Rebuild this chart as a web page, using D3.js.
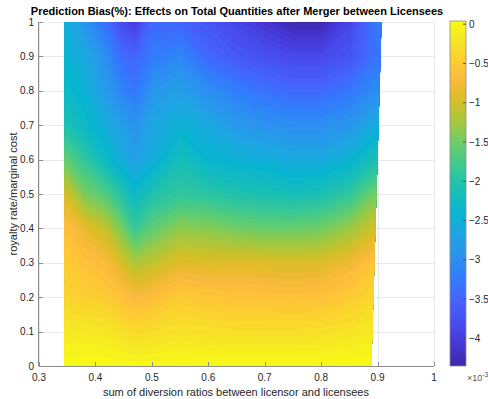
<!DOCTYPE html>
<html>
<head>
<meta charset="utf-8">
<script src="https://cdn.jsdelivr.net/npm/d3@7"></script>
<style>
  body { margin: 0; background: #fff; }
  svg { display: block; font-family: "Liberation Sans", Arial, Helvetica, sans-serif; }
</style>
</head>
<body>
<svg id="chart" width="488" height="399"></svg>
<script>
// grid columns: sum of diversion ratios
const diversionSums = [0.345, 0.38, 0.42, 0.445, 0.47, 0.5, 0.55, 0.6, 0.65, 0.7, 0.75, 0.8, 0.85, 0.91];
// grid rows: royalty rate / marginal cost
const royaltyRates = [0, 0.1, 0.2, 0.3, 0.4, 0.5, 0.6, 0.7, 0.8, 0.9, 1];

// prediction bias (x 1e-3), one row per royalty rate
const bias00 = [0.03, 0.03, 0.03, 0.02, 0.0, 0.01, 0.03, 0.03, 0.03, 0.03, 0.03, 0.03, 0.03, 0.04];
const bias01 = [-0.15, -0.17, -0.2, -0.26, -0.33, -0.3, -0.25, -0.27, -0.28, -0.28, -0.28, -0.27, -0.22, -0.14];
const bias02 = [-0.4, -0.45, -0.5, -0.6, -0.72, -0.65, -0.5, -0.55, -0.6, -0.6, -0.62, -0.6, -0.5, -0.33];
const bias03 = [-0.5, -0.6, -0.72, -0.95, -1.2, -1.1, -0.9, -0.93, -0.9, -0.92, -0.95, -0.92, -0.8, -0.5];
const bias04 = [-0.6, -0.85, -1.1, -1.45, -1.85, -1.6, -1.35, -1.4, -1.5, -1.55, -1.55, -1.5, -1.3, -0.9];
const bias05 = [-0.95, -1.45, -1.7, -2.0, -2.3, -2.05, -1.9, -1.95, -2.05, -2.1, -2.15, -2.1, -1.9, -1.35];
const bias06 = [-1.55, -1.9, -2.3, -2.55, -2.75, -2.55, -2.15, -2.4, -2.45, -2.5, -2.6, -2.6, -2.45, -2.0];
const bias07 = [-2.05, -2.3, -2.55, -2.75, -2.95, -2.65, -2.45, -2.6, -2.85, -2.95, -3.0, -3.0, -2.9, -2.45];
const bias08 = [-2.3, -2.45, -2.85, -3.1, -3.3, -2.9, -2.75, -3.0, -3.2, -3.35, -3.45, -3.45, -3.3, -2.95];
const bias09 = [-2.4, -2.6, -3.0, -3.4, -3.5, -3.25, -3.1, -3.45, -3.65, -3.75, -3.85, -3.85, -3.7, -3.25];
const bias10 = [-2.5, -2.9, -3.4, -3.8, -4.0, -3.45, -3.5, -3.7, -3.9, -4.1, -4.3, -4.3, -3.9, -3.1];
const biasRows = [bias00, bias01, bias02, bias03, bias04, bias05, bias06, bias07, bias08, bias09, bias10];

// outline of the region that holds data
const regionOutline = [[0.345, 0], [0.345, 1], [0.907, 1], [0.889, 0]];

const xTicks = [0.3, 0.4, 0.5, 0.6, 0.7, 0.8, 0.9, 1];
const yTicks = [0, 0.1, 0.2, 0.3, 0.4, 0.5, 0.6, 0.7, 0.8, 0.9, 1];
const colorTicks = [-4, -3.5, -3, -2.5, -2, -1.5, -1, -0.5, 0];
const colorLimits = [-4.35, 0.04];

// parula colormap (index into 64-entry table)
const parulaIdx = [1, 5, 9, 13, 17, 21, 25, 29, 33, 37, 41, 45, 49, 51, 53, 54, 57, 61, 64];
const parulaHex = ["#3e26a8", "#4537d5", "#484df0", "#4563fd", "#327cfc", "#2b91ef", "#20a5e3", "#08b5d0",
  "#19bfb6", "#37c897", "#64cd6f", "#9dc943", "#d1bf27", "#e6bb2d", "#f8ba3d", "#febd3c", "#fccf30", "#f5e924", "#f9fb15"];

const svg = d3.select("#chart");
const axisColor = "#8c8c8c";
const textColor = "#262626";

const x = d3.scaleLinear().domain([0.3, 1]).range([39, 434]);
const y = d3.scaleLinear().domain([0, 1]).range([366, 22]);
const c = d3.scaleLinear().domain(colorLimits).range([366, 21]);

const parula = d3.scaleLinear().domain(parulaIdx).range(parulaHex).interpolate(d3.interpolateRgb);
const color = v => parula(1 + 63 * (v - colorLimits[0]) / (colorLimits[1] - colorLimits[0]));

// grid lines
const grid = svg.append("g").attr("stroke", "#e8e8e8").attr("stroke-width", 1);
grid.selectAll(".gx").data(xTicks).join("line")
  .attr("x1", d => Math.round(x(d)) + 0.5).attr("x2", d => Math.round(x(d)) + 0.5)
  .attr("y1", y(0)).attr("y2", y(1));
grid.selectAll(".gy").data(yTicks).join("line")
  .attr("y1", d => Math.round(y(d)) + 0.5).attr("y2", d => Math.round(y(d)) + 0.5)
  .attr("x1", x(0.3)).attr("x2", x(1));

// filled contours of the bias surface
const nx = diversionSums.length, ny = royaltyRates.length;
const nLevels = 64;
const step = (colorLimits[1] - colorLimits[0]) / nLevels;
const thresholds = d3.range(nLevels).map(i => colorLimits[0] - 0.001 + i * step);
const contours = d3.contours().size([nx, ny]).thresholds(thresholds)(biasRows.flat());

// grid index space -> data value (samples sit at i + 0.5)
const fromIndex = (arr, k) => {
  const u = Math.max(0, Math.min(arr.length - 1, k - 0.5));
  const i = Math.min(Math.floor(u), arr.length - 2);
  return arr[i] + (u - i) * (arr[i + 1] - arr[i]);
};
const gridProjection = d3.geoTransform({
  point(px, py) { this.stream.point(x(fromIndex(diversionSums, px)), y(fromIndex(royaltyRates, py))); }
});
const path = d3.geoPath(gridProjection);

svg.append("clipPath").attr("id", "region")
  .append("path")
  .attr("d", d3.line().x(d => x(d[0])).y(d => y(d[1]))(regionOutline) + "Z");

svg.append("g").attr("clip-path", "url(#region)")
  .selectAll("path").data(contours).join("path")
  .attr("d", path)
  .attr("fill", d => color(d.value + step / 2))
  .attr("stroke", d => color(d.value + step / 2))
  .attr("stroke-width", 0.6);

// axes
const xAxis = svg.append("g");
xAxis.append("line").attr("x1", x(0.3)).attr("x2", x(1)).attr("y1", 366.5).attr("y2", 366.5)
  .attr("stroke", axisColor);
xAxis.selectAll(".tick").data(xTicks).join("line")
  .attr("x1", d => Math.round(x(d)) + 0.5).attr("x2", d => Math.round(x(d)) + 0.5)
  .attr("y1", 366).attr("y2", 362).attr("stroke", axisColor);
xAxis.selectAll("text").data(xTicks).join("text")
  .attr("x", d => x(d)).attr("y", 381)
  .attr("text-anchor", "middle").attr("font-size", 10).attr("fill", textColor)
  .text(d => d3.format("~g")(d));

const yAxis = svg.append("g");
yAxis.append("line").attr("x1", 38.5).attr("x2", 38.5).attr("y1", y(0)).attr("y2", y(1))
  .attr("stroke", axisColor);
yAxis.selectAll(".tick").data(yTicks).join("line")
  .attr("y1", d => Math.round(y(d)) + 0.5).attr("y2", d => Math.round(y(d)) + 0.5)
  .attr("x1", 39).attr("x2", 43).attr("stroke", axisColor);
yAxis.selectAll("text").data(yTicks).join("text")
  .attr("x", 34).attr("y", d => y(d) + 3.5)
  .attr("text-anchor", "end").attr("font-size", 10).attr("fill", textColor)
  .text(d => d3.format("~g")(d));

// titles
svg.append("text").attr("x", 237).attr("y", 15)
  .attr("text-anchor", "middle").attr("font-size", 11).attr("font-weight", "bold").attr("fill", "#000")
  .text("Prediction Bias(%): Effects on Total Quantities after Merger between Licensees");
svg.append("text").attr("x", 236).attr("y", 396)
  .attr("text-anchor", "middle").attr("font-size", 11).attr("fill", textColor)
  .text("sum of diversion ratios between licensor and licensees");
svg.append("text").attr("transform", "translate(17,194) rotate(-90)")
  .attr("text-anchor", "middle").attr("font-size", 11).attr("fill", textColor)
  .text("royalty rate/marginal cost");

// colorbar
const cbX = 450, cbW = 16;
const grad = svg.append("defs").append("linearGradient").attr("id", "cbar")
  .attr("x1", 0).attr("y1", 1).attr("x2", 0).attr("y2", 0);
grad.selectAll("stop").data(d3.range(65)).join("stop")
  .attr("offset", i => i / 64)
  .attr("stop-color", i => color(colorLimits[0] + i * (colorLimits[1] - colorLimits[0]) / 64));
svg.append("rect").attr("x", cbX).attr("y", c(colorLimits[1])).attr("width", cbW)
  .attr("height", c(colorLimits[0]) - c(colorLimits[1]))
  .attr("fill", "url(#cbar)").attr("stroke", axisColor).attr("stroke-width", 0.8);
svg.append("g").selectAll("line").data(colorTicks).join("line")
  .attr("x1", cbX + cbW - 3).attr("x2", cbX + cbW)
  .attr("y1", d => c(d)).attr("y2", d => c(d)).attr("stroke", "#555");
svg.append("g").selectAll("text").data(colorTicks).join("text")
  .attr("x", 469).attr("y", d => c(d) + 3.5)
  .attr("font-size", 10).attr("fill", textColor)
  .text(d => d3.format("~g")(d));
const expo = svg.append("text").attr("x", 467).attr("y", 381)
  .attr("font-size", 9).attr("fill", "#555");
expo.append("tspan").text("×10");
expo.append("tspan").attr("dy", -4).attr("font-size", 7).text("-3");
</script>
</body>
</html>
